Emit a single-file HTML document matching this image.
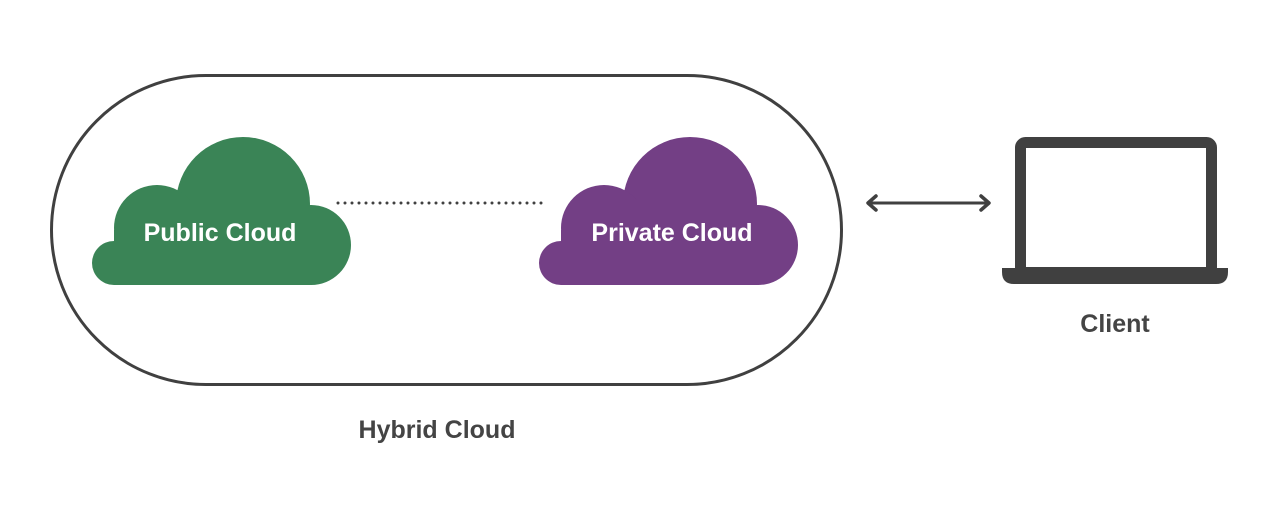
<!DOCTYPE html>
<html><head><meta charset="utf-8"><style>
body{margin:0;background:#fff;width:1280px;height:518px;overflow:hidden}
</style></head><body>
<svg width="1280" height="518" viewBox="0 0 1280 518" xmlns="http://www.w3.org/2000/svg" font-family="Liberation Sans, sans-serif">
<rect x="51.5" y="75.5" width="790" height="309" rx="154.5" fill="none" stroke="#404040" stroke-width="3"/>
<g fill="#3a8456">
<circle cx="243" cy="204" r="67"/>
<circle cx="157" cy="228" r="43"/>
<circle cx="311" cy="245" r="40"/>
<circle cx="114" cy="263" r="22"/>
<rect x="114" y="230" width="196" height="55"/>
<rect x="157" y="200" width="150" height="60"/>
</g>
<g transform="translate(447,0)" fill="#733f85">
<circle cx="243" cy="204" r="67"/>
<circle cx="157" cy="228" r="43"/>
<circle cx="311" cy="245" r="40"/>
<circle cx="114" cy="263" r="22"/>
<rect x="114" y="230" width="196" height="55"/>
<rect x="157" y="200" width="150" height="60"/>
</g>
<text x="220" y="241" text-anchor="middle" font-size="25" font-weight="bold" fill="#fff">Public Cloud</text>
<text x="672" y="241" text-anchor="middle" font-size="25" font-weight="bold" fill="#fff">Private Cloud</text>
<line x1="338" y1="203" x2="548" y2="203" stroke="#404040" stroke-width="3" stroke-dasharray="0 7" stroke-linecap="round"/>
<line x1="869" y1="203" x2="988" y2="203" stroke="#404040" stroke-width="3"/>
<polyline points="876,196 868,203 876,210" fill="none" stroke="#404040" stroke-width="3.5" stroke-linecap="round" stroke-linejoin="round"/>
<polyline points="981,196 989,203 981,210" fill="none" stroke="#404040" stroke-width="3.5" stroke-linecap="round" stroke-linejoin="round"/>
<rect x="1020.5" y="142.5" width="191" height="130" rx="5" fill="none" stroke="#404040" stroke-width="11"/>
<path d="M1002 268 H1228 V272 Q1228 284 1216 284 H1014 Q1002 284 1002 272 Z" fill="#404040"/>
<text x="1115" y="332" text-anchor="middle" font-size="25" font-weight="bold" fill="#444">Client</text>
<text x="437" y="438" text-anchor="middle" font-size="25" font-weight="bold" fill="#444">Hybrid Cloud</text>
</svg>
</body></html>
